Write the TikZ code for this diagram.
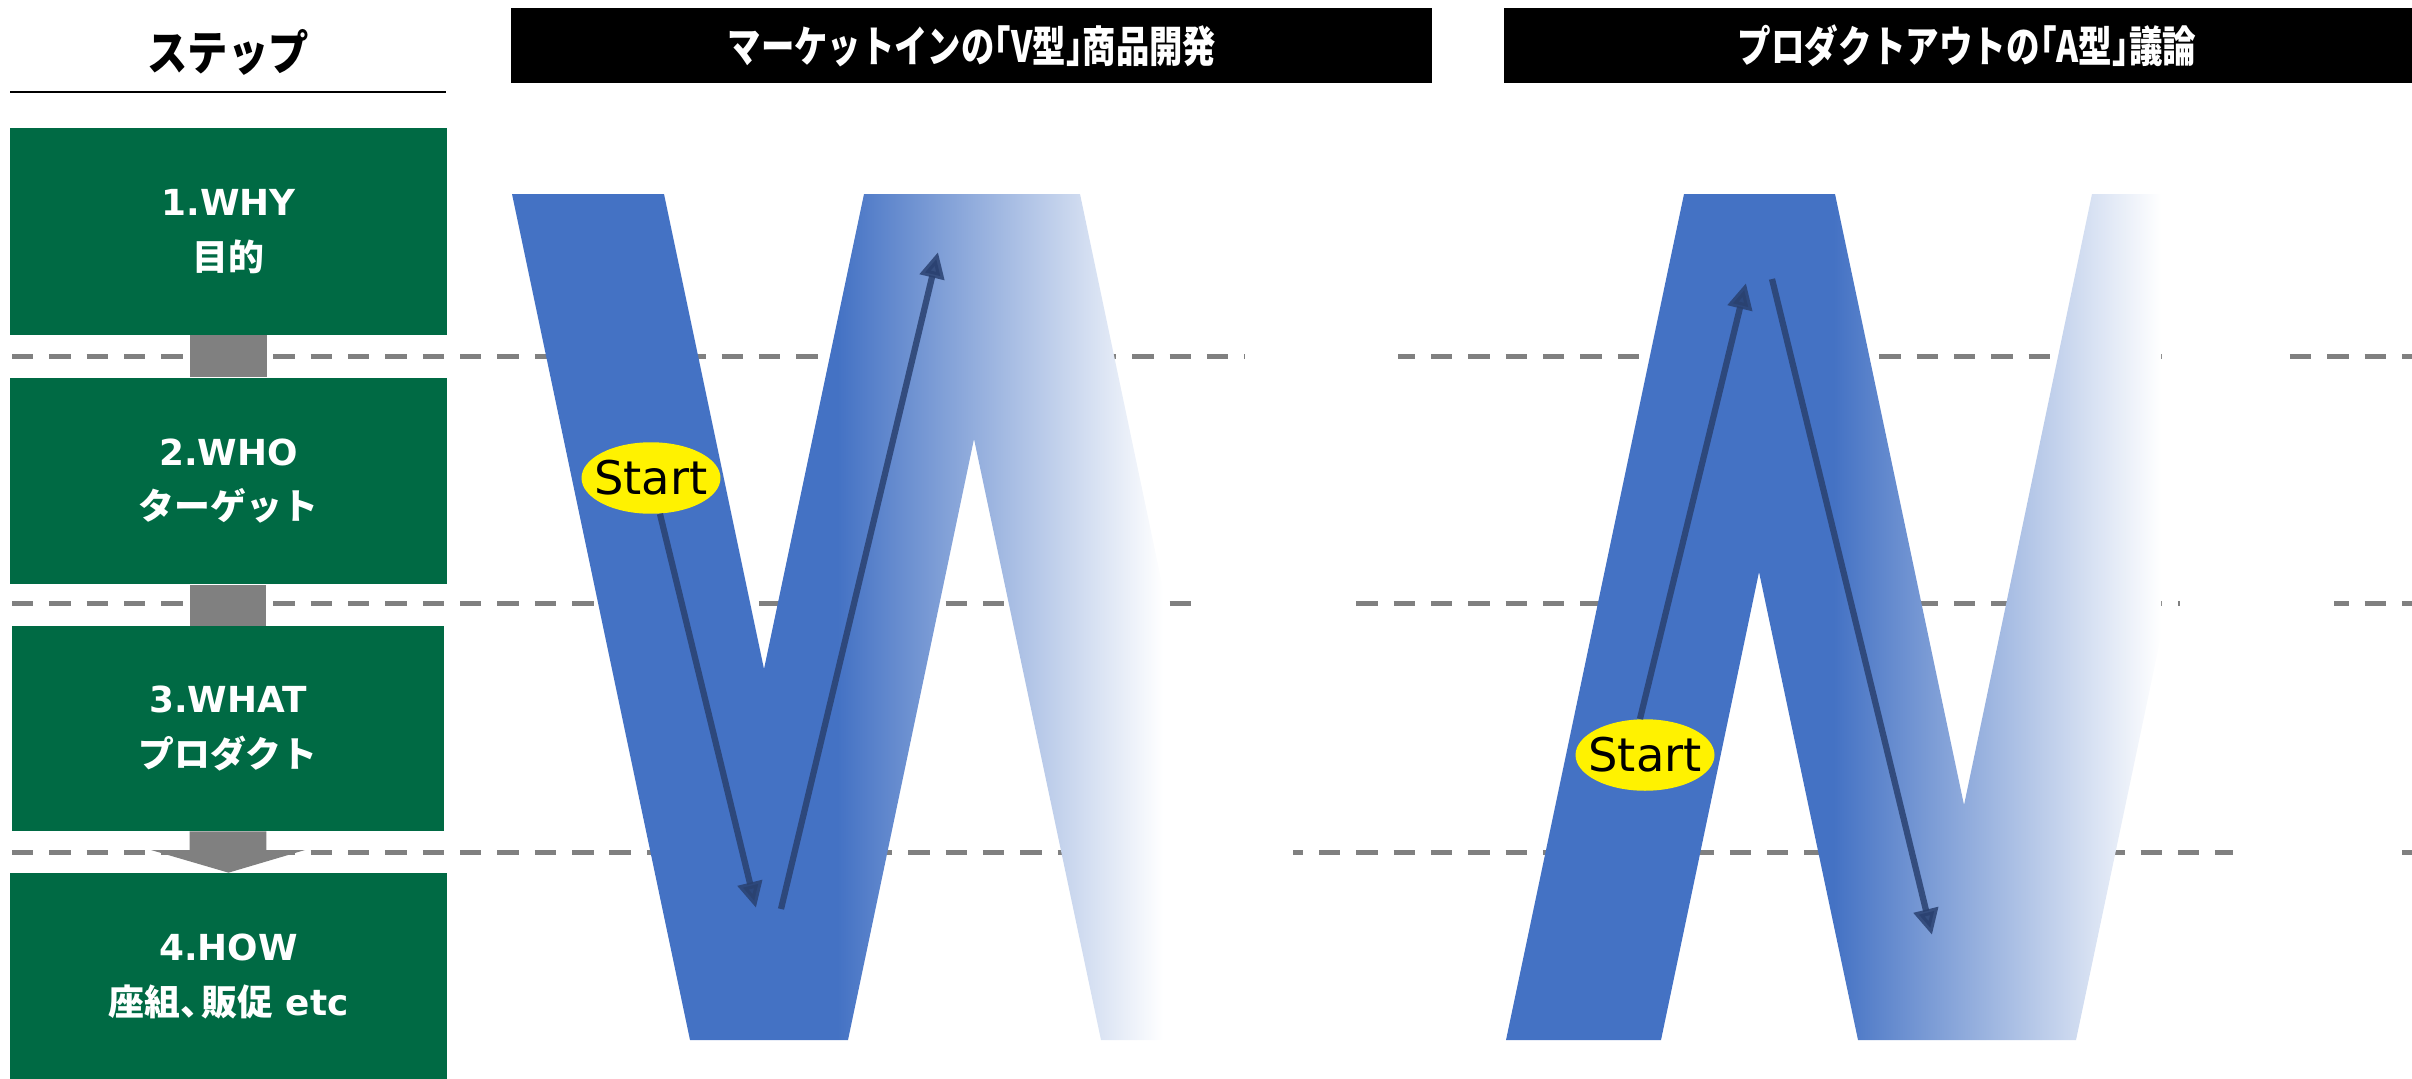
\documentclass[tikz,border=0pt]{standalone}
\usepackage{fontspec}
\setmainfont{DejaVu Sans}
\newfontfamily\jp{Noto Sans CJK JP}
\usetikzlibrary{arrows.meta,shapes.geometric}
\definecolor{stepgreen}{HTML}{006A44}
\definecolor{vblue}{HTML}{4472C4}
\definecolor{arrcol}{HTML}{2A4170}
\definecolor{dashgray}{HTML}{808080}
\pgfdeclarehorizontalshading{wfade}{100bp}{color(0bp)=(vblue); color(25bp)=(vblue); color(50bp)=(vblue); color(75bp)=(white); color(100bp)=(white)}
\begin{document}
\begin{tikzpicture}[x=0.02cm,y=-0.02cm,
  stepbox/.style={fill=stepgreen, text=white, minimum width=8.74cm, minimum height=4.14cm, inner sep=0pt, align=center, font=\fontsize{20.4}{31.2}\selectfont\bfseries},
  conn/.style={fill=dashgray},
  dline/.style={draw=dashgray, line width=0.1cm, dash pattern=on 0.427cm off 0.32cm},
  gapcover/.style={fill=white},
  titlebar/.style={fill=black, inner sep=0pt, minimum height=1.5cm},
  titletext/.style={text=white, inner sep=0pt, font=\jp\fontsize{24.5}{28}\selectfont\bfseries},
  startnode/.style={ellipse, fill=yellow, minimum width=2.78cm, minimum height=1.43cm, inner xsep=-0.16cm, inner ysep=0pt, font=\fontsize{26.4}{30}\selectfont},
  flow/.style={draw=arrcol, fill=arrcol, opacity=0.85, line width=0.125cm, -{Triangle[length=0.52cm,width=0.48cm]}}
]
\useasboundingbox (0,0) rectangle (2412,1078);

% header of the step column
\node[font=\jp\fontsize{27}{30}\selectfont\bfseries] (steptitle) at (228,52) {\scalebox{0.85}[1]{ステップ}};
\draw[line width=0.06cm] (10,92) -- (446,92);

% title bars
\node[titlebar, minimum width=18.42cm] (barV) at (971.5,45.5) {};
\node[titletext] (barVtext) at (972,46) {\scalebox{0.775}[1]{マーケットインの\kern-.5em「V型」\kern-.5em商品開発}};
\node[titlebar, minimum width=18.16cm] (barA) at (1958,45.5) {};
\node[titletext] (barAtext) at (1967,46) {\scalebox{0.78}[1]{プロダクトアウトの\kern-.5em「A型」\kern-.5em議論}};

% dashed level lines
\draw[dline] (12,356) -- (2412,356);
\draw[dline] (12,603) -- (2412,603);
\draw[dline] (12,852) -- (2412,852);
\fill[gapcover] (1245,346) rectangle (1398,366);
\fill[gapcover] (2170,346) rectangle (2289,366);
\fill[gapcover] (1191,593) rectangle (1356,613);
\fill[gapcover] (2180,593) rectangle (2334,613);
\fill[gapcover] (1166,842) rectangle (1293,862);
\fill[gapcover] (2233,842) rectangle (2402,862);

% V-type shape
\begin{scope}
\clip (512,194) -- (664,194) -- (764,669) -- (864,194) -- (1080,194) -- (1258,1040) -- (1101,1040) -- (974,439) -- (848,1040) -- (690,1040) -- cycle;
\shade[shading=wfade] (512,194) rectangle (1163,1040);
\end{scope}

% A-type shape
\begin{scope}
\clip (1506,1040) -- (1684,194) -- (1835,194) -- (1964,805) -- (2092,194) -- (2254,194) -- (2076,1040) -- (1858,1040) -- (1759,572) -- (1661,1040) -- cycle;
\shade[shading=wfade] (1506,194) rectangle (2161,1040);
\end{scope}

% step boxes
\node[stepbox] (s1) at (228.5,231.5) {1.WHY\\{\jp 目的}};
\node[stepbox] (s2) at (228.5,481) {2.WHO\\{\jp ターゲット}};
\node[stepbox, minimum width=8.64cm, minimum height=4.1cm] (s3) at (228,728.5) {3.WHAT\\{\jp プロダクト}};
\node[stepbox] (s4) at (228.5,976.5) {4.HOW\\{\jp 座組、\kern-.4em販促} etc};

% gray connectors
\fill[conn] ([xshift=-0.77cm]s1.south) rectangle ([xshift=0.77cm]s2.north);
\fill[conn] ([xshift=-0.77cm]s2.south) rectangle ([xshift=0.77cm]s3.north);
\coordinate (headL) at (151,850);
\coordinate (headR) at (305,850);
\fill[conn] ([xshift=-0.77cm]s3.south) -- ([xshift=-0.77cm]s3.south |- headL) -- (headL) -- (s4.north) -- (headR) -- ([xshift=0.77cm]s3.south |- headR) -- ([xshift=0.77cm]s3.south) -- cycle;

% start labels and flow arrows
\node[startnode] (startL) at (651,478) {Start};
\node[startnode] (startR) at (1645,755) {Start};
\coordinate (aTip) at (756,908);
\coordinate (bTail) at (781,909);
\coordinate (bTip) at (938,252);
\coordinate (cTip) at (1746,283);
\coordinate (dTail) at (1772,279);
\coordinate (dTip) at (1932,935);
\draw[flow] (startL.-76) -- (aTip);
\draw[flow] (bTail) -- (bTip);
\draw[flow] (startR.98) -- (cTip);
\draw[flow] (dTail) -- (dTip);
\end{tikzpicture}
\end{document}
